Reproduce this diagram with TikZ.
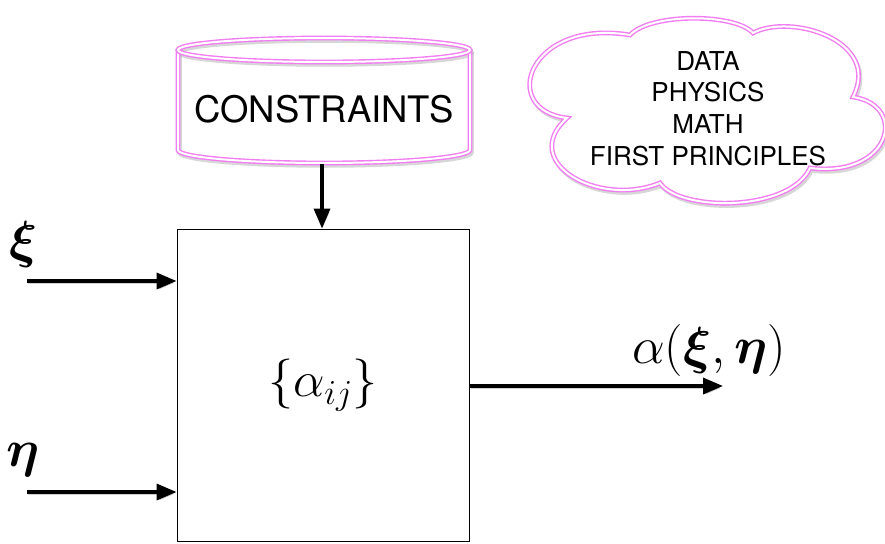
\RequirePackage{fix-cm}
\documentclass[tikz,border=0pt]{standalone}
\usepackage{fontspec}
\usepackage{bm}
\newfontfamily\helv{TeX Gyre Heros}
\usetikzlibrary{arrows.meta}
\definecolor{pinkc}{RGB}{242,125,242}
\begin{document}
\begin{tikzpicture}[x=1pt,y=-1pt,
  pinkline/.style={draw=pinkc, line width=1.4pt, double=white, double distance=2pt},
  softshadow/.style={draw=black!35, opacity=.45, line width=4.5pt, shift={(1.5,2.5)}},
  arr/.style={line width=3.4pt, -{Triangle[length=20pt,width=16pt]},
    preaction={draw=black!40, opacity=.45, transform canvas={shift={(1.2pt,-2pt)}}}},
  mathlbl/.style={font=\fontsize{52}{60}\selectfont, inner sep=0pt, anchor=base},
]
\useasboundingbox (0,0) rectangle (885,543);

% cloud
\def\cloudpath{(567,118) .. controls (498,110) and (528,18) .. (630,35)
  .. controls (650,13) and (735,13) .. (753,33)
  .. controls (790,13) and (882,40) .. (853,97)
  .. controls (908,105) and (892,178) .. (810,168)
  .. controls (790,212) and (680,212) .. (660,183)
  .. controls (598,208) and (518,162) .. cycle}
\draw[softshadow] \cloudpath;
\draw[pinkline, fill=white] \cloudpath;
\node[font=\helv\fontsize{26}{31.7}\selectfont, align=center, inner sep=0pt] (cloudtxt) at (708,108.5)
  {DATA\\PHYSICS\\MATH\\FIRST PRINCIPLES};

% cylinder
\def\cylsides{(178,50) -- (178,150) .. controls (178,157.2) and (243.9,163) .. (324,163)
  .. controls (404.1,163) and (470,157.2) .. (470,150) -- (470,50)}
\draw[softshadow] \cylsides;
\draw[softshadow] (324,50) ellipse [x radius=146, y radius=12];
\draw[pinkline] \cylsides;
\draw[pinkline] (324,50) ellipse [x radius=146, y radius=12];
\node[font=\helv\fontsize{36.5}{40}\selectfont, inner sep=0pt, anchor=base] (cons) at (324,122) {CONSTRAINTS};
\coordinate (cylb) at (322,164);

% box
\node[draw, line width=0.9pt, minimum width=292pt, minimum height=312pt, inner sep=0pt,
  font=\fontsize{50}{60}\selectfont] (box) at (323,385) {$\{\alpha_{ij}\}$};

% inputs
\coordinate (xis) at (27,281);
\coordinate (etas) at (27,492);
\node[mathlbl] (xil) at (24,257) {$\bm{\xi}$};
\node[mathlbl] (etal) at (23,466) {$\bm{\eta}$};
\draw[arr] (xis) -- (xis -| box.west);
\draw[arr] (etas) -- (etas -| box.west);

% output
\coordinate (oute) at (723,386);
\draw[arr] (box.east |- oute) -- (oute);
\node[mathlbl] (outl) at (709,363) {$\alpha(\bm{\xi},\bm{\eta})$};

% constraints arrow
\draw[arr] (cylb) -- (cylb |- box.north);
\end{tikzpicture}
\end{document}
